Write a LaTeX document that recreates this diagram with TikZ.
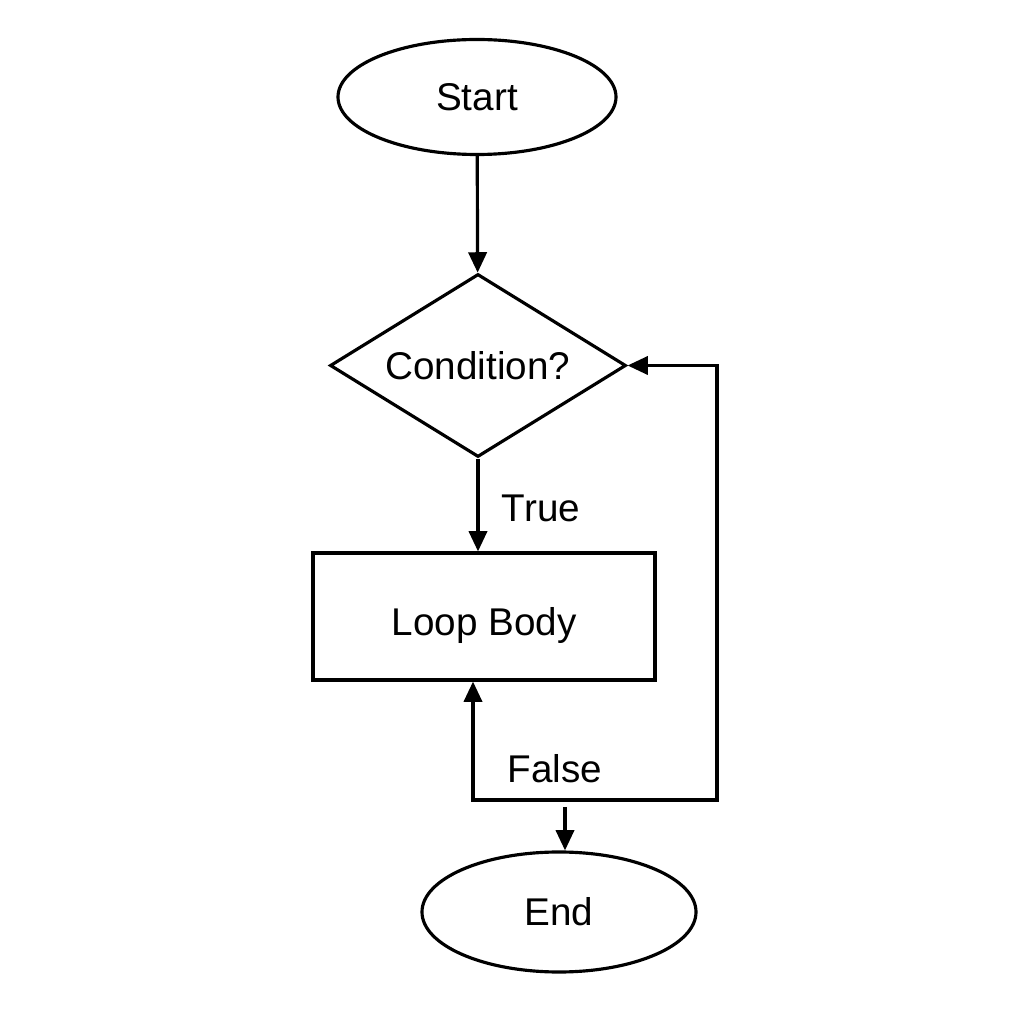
\documentclass[tikz,border=0pt]{standalone}
\usepackage{fontspec}
\setmainfont{Liberation Sans}
\usepackage{tikz}
\usetikzlibrary{arrows.meta}
\usetikzlibrary{shapes.geometric}
\tikzset{>={Triangle[length=5.8pt,width=5.2pt]}}

\begin{document}
\begin{tikzpicture}[
        every node/.style = {font=\fontsize{11}{13}\selectfont},
        flowline/.style = {line width=0.9pt},
        terminal/.style = {flowline, draw, ellipse, inner sep=0pt},
        decision/.style = {flowline, draw, diamond, aspect=1.6, inner sep=0pt,
            minimum width=2.96cm, minimum height=1.83cm},
        process/.style = {flowline, draw, rectangle, inner sep=0pt, text height=0.47cm,
            minimum width=3.42cm, minimum height=1.27cm}
    ]
            \useasboundingbox (0, 0) rectangle (10.24, 10.24);
            \node[terminal, minimum width=2.78cm, minimum height=1.15cm] (start) at (4.77, 9.27) {Start};
            \node[decision] (cond) at (4.78, 6.585) {Condition?};
            \node[process] (body) at (4.84, 4.075) {Loop Body};
            \node[terminal, minimum width=2.74cm, minimum height=1.20cm] (stop) at (5.59, 1.12) {End};
            \coordinate (loopleft) at (4.73, 2.24);
            \coordinate (loopright) at (7.17, 2.24);
            \coordinate (exit) at (5.65, 2.17);
            \draw[flowline, ->] (start) -- (cond);
            \draw[flowline, ->] (cond) -- (cond |- body.north);
            \node (truelabel) at (5.41, 5.16) {True};
            \draw[flowline, <->] (loopleft |- body.south) -- (loopleft) -- (loopright) |- (cond.east);
            \node (falselabel) at (5.55, 2.55) {False};
            \draw[flowline, ->] (exit) -- (exit |- stop.north);
        \end{tikzpicture}
\end{document}
